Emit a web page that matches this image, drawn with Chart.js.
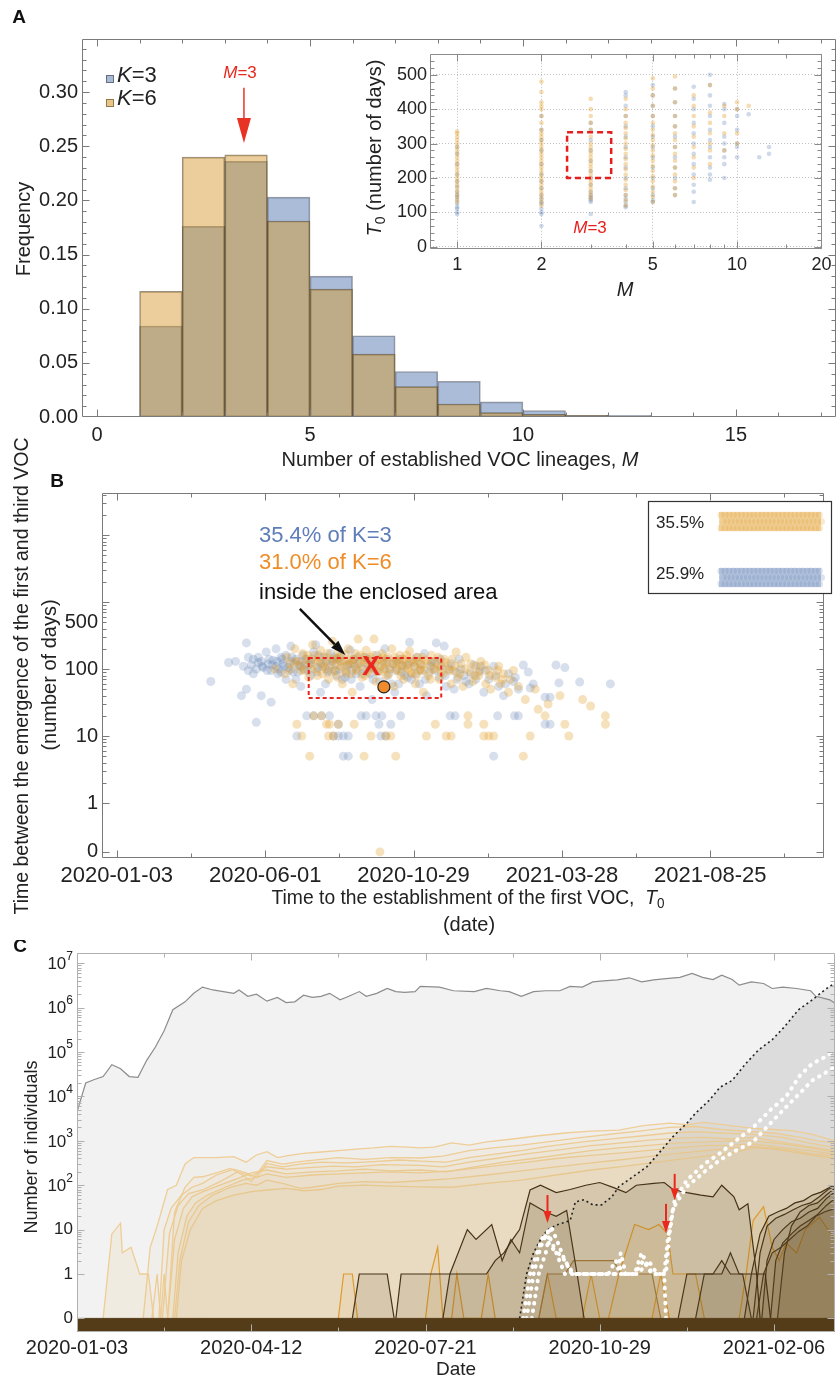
<!DOCTYPE html>
<html>
<head>
<meta charset="utf-8">
<script src="https://cdn.jsdelivr.net/npm/chart.js@4.4.0/dist/chart.umd.min.js"></script>
<style>
  body { margin: 0; background: #fff; }
  #wrap { position: relative; width: 837px; height: 1381px; overflow: hidden; }
  canvas { position: absolute; }
</style>
</head>
<body>
<div id="wrap">
  <canvas id="histA" width="837" height="480" style="left:0;top:0"></canvas>
  <canvas id="insetA" width="497" height="270" style="left:340px;top:40px"></canvas>
  <canvas id="scatterB" width="837" height="560" style="left:0;top:380px"></canvas>
  <canvas id="linesC" width="837" height="441" style="left:0;top:940px"></canvas>
</div>
<script>
const FONT = "'Liberation Sans', Arial, Helvetica, sans-serif";
Chart.defaults.font.family = FONT;
Chart.defaults.color = '#222';

const BLUE = '94,129,181';
const ORANGE = '225,156,36';

// ---------- panel A : histogram of M ----------
const binStarts = [1, 2, 3, 4, 5, 6, 7, 8, 9, 10, 11, 12];
const freqK3 = [0.084, 0.176, 0.236, 0.203, 0.130, 0.075, 0.042, 0.033, 0.014, 0.006, 0.0015, 0.0015];
const freqK6 = [0.116, 0.240, 0.242, 0.181, 0.118, 0.058, 0.028, 0.012, 0.004, 0.0025, 0.0015, 0];
const histXTicks = [0, 5, 10, 15];
const histYTicks = [0, 0.05, 0.10, 0.15, 0.20, 0.25, 0.30];
const arrowA = [3.45, 0.304, 0.253];

// inset: T0 against M
const insetK6 = [
  [1,130],[1,140],[1,150],[1,160],[1,170],[1,180],[1,190],[1,200],[1,210],[1,220],[1,230],[1,240],[1,250],[1,260],[1,270],[1,280],[1,290],[1,300],[1,310],[1,320],[1,330],[1,335],
  [2,120],[2,130],[2,140],[2,150],[2,160],[2,170],[2,180],[2,190],[2,200],[2,210],[2,220],[2,230],[2,240],[2,250],[2,260],[2,270],[2,280],[2,290],[2,300],[2,310],[2,320],[2,330],[2,340],[2,360],[2,380],[2,400],[2,410],[2,420],[2,450],[2,480],
  [3,140],[3,150],[3,160],[3,170],[3,180],[3,190],[3,200],[3,210],[3,220],[3,230],[3,240],[3,250],[3,260],[3,270],[3,280],[3,290],[3,300],[3,320],[3,340],[3,360],[3,380],[3,400],[3,430],
  [4,120],[4,135],[4,150],[4,165],[4,180],[4,195],[4,210],[4,225],[4,240],[4,255],[4,270],[4,285],[4,300],[4,315],[4,330],[4,345],[4,360],[4,380],[4,400],[4,430],
  [5,130],[5,145],[5,160],[5,175],[5,190],[5,205],[5,220],[5,235],[5,250],[5,265],[5,280],[5,295],[5,310],[5,325],[5,340],[5,360],[5,380],[5,410],[5,440],[5,460],[5,490],
  [6,150],[6,170],[6,190],[6,210],[6,230],[6,250],[6,270],[6,290],[6,310],[6,330],[6,350],[6,380],[6,420],[6,460],[6,495],
  [7,200],[7,230],[7,260],[7,290],[7,320],[7,350],[7,380],[7,410],[7,440],
  [8,240],[8,280],[8,300],[8,330],[8,360],[8,390],[8,470],
  [9,280],[9,330],[9,380],[9,410],
  [10,300],[10,330],[10,400],[10,420],
  [11,410]
];
const insetK3 = [
  [1,95],[1,100],[1,110],[1,115],[1,125],[1,135],[1,145],[1,150],[1,160],[1,175],[1,190],[1,210],[1,240],[1,270],[1,290],
  [2,60],[2,95],[2,100],[2,110],[2,125],[2,130],[2,140],[2,150],[2,170],[2,190],[2,210],[2,240],[2,280],[2,310],[2,340],[2,380],
  [3,95],[3,130],[3,135],[3,140],[3,145],[3,150],[3,160],[3,180],[3,200],[3,220],[3,250],[3,280],[3,310],[3,340],[3,360],
  [4,115],[4,120],[4,130],[4,140],[4,150],[4,170],[4,200],[4,230],[4,260],[4,290],[4,320],[4,350],[4,380],[4,410],[4,440],[4,450],
  [5,130],[5,135],[5,150],[5,170],[5,200],[5,230],[5,260],[5,290],[5,320],[5,350],[5,380],[5,410],[5,440],[5,470],
  [6,150],[6,170],[6,200],[6,230],[6,260],[6,290],[6,320],[6,350],[6,380],[6,420],[6,460],
  [7,130],[7,160],[7,180],[7,210],[7,240],[7,270],[7,300],[7,330],[7,360],[7,400],[7,430],[7,465],
  [8,195],[8,210],[8,230],[8,260],[8,290],[8,310],[8,340],[8,380],[8,410],[8,440],[8,470],[8,500],
  [9,200],[9,240],[9,260],[9,280],[9,300],[9,320],[9,360],[9,400],[9,415],
  [10,260],[10,290],[10,300],[10,340],[10,380],[10,400],
  [11,385],[12,260],[13,270],[13,290]
];
const insetXTicks = [1, 2, 5, 10, 20];
const insetYTicks = [0, 100, 200, 300, 400, 500];
const insetBox = [2.47, 3.55, 200, 333];

// ---------- panel B : days between 1st and 3rd VOC ----------
const scatterK3 = [
  [95,65],[113,125],[120,130],[126,40],[131,245],[131,50],[133,150],[136,115],[138,140],[141,100],[141,16],[143,125],[146,40],[146,130],[148,105],
  [151,180],[153,120],[156,32],[156,95],[158,135],[161,200],[161,110],[163,85],[166,90],[166,150],[168,120],[171,160],[171,70],[173,105],[176,220],
  [176,130],[178,90],[181,70],[181,140],[182,10],[184,115],[186,110],[186,55],[188,160],[191,140],[192,20],[193,95],[196,80],[196,125],[199,20],
  [199,180],[201,230],[203,105],[206,120],[206,45],[207,20],[209,150],[211,60],[213,90],[215,20],[216,170],[218,130],[219,10],[221,95],[223,140],
  [224,10],[224,15],[226,130],[228,70],[229,10],[229,5],[231,75],[233,115],[234,5],[234,10],[236,190],[238,95],[241,110],[243,150],[246,55],
  [247,20],[248,85],[251,150],[252,20],[253,120],[256,85],[258,35],[261,120],[262,20],[263,160],[265,15],[266,65],[267,10],[268,20],[270,105],
  [271,200],[272,10],[273,140],[276,100],[277,15],[278,60],[281,45],[283,130],[286,140],[287,20],[288,90],[291,80],[293,115],[296,250],[298,70],
  [301,110],[303,150],[306,60],[308,95],[311,170],[313,40],[316,90],[318,125],[321,130],[323,245],[326,75],[328,110],[331,220],[333,55],[336,100],
  [337,20],[341,50],[342,20],[343,90],[346,140],[351,80],[353,65],[356,60],[361,115],[366,90],[371,45],[376,70],[381,110],[381,5],[385,20],
  [386,55],[391,40],[396,85],[401,65],[402,20],[406,50],[406,20],[411,115],[416,90],[418,52],[421,60],[433,38],[433,15],[438,15],[438,38],
  [444,115],[447,62],[453,105],[468,64],[499,60],
  [128,110],[133,95],[138,85],[143,150],[147,110],[152,95],[154,140],[157,115],[162,130],[164,100],[167,140],[169,110],[174,95],[177,150],[179,120],
  [183,90],[187,130],[189,100],[194,115],[197,140],[202,90],[204,160],[208,110],[212,130],[214,95],[217,115],[220,150],[222,80],[225,100],[227,160],
  [232,90],[235,120],[237,70],[239,140],[242,85],[244,120],[249,100],[254,140],[257,105],[259,70],[264,90],[269,130],[274,80],[279,120],[282,95],
  [285,60],[289,110],[294,75],[297,130],[302,85],[307,120],[312,70],[317,110],[322,95],[327,140],[332,80],[338,120],[344,70],[348,100],[358,85],
  [363,70],[368,110],[373,95],[383,80],[393,60],[403,75]
];
const scatterK6 = [
  [160,100],[170,85],[172,150],[175,120],[178,60],[180,200],[182,15],[183,130],[185,110],[187,10],[188,170],[190,95],[192,140],[194,75],[195,5],
  [196,120],[198,230],[199,20],[200,160],[202,100],[204,130],[206,190],[207,20],[208,85],[210,110],[212,15],[212,150],[214,10],[214,70],[215,15],
  [216,125],[218,260],[219,10],[220,95],[222,145],[224,15],[224,180],[226,110],[228,60],[230,130],[232,85],[234,200],[236,120],[238,45],[240,15],
  [240,140],[242,100],[244,280],[246,160],[248,75],[250,5],[250,125],[252,190],[254,90],[256,150],[257,10],[258,110],[260,280],[262,65],[264,135],
  [266,95],[266,0],[268,170],[270,120],[272,10],[272,80],[274,150],[276,105],[277,10],[278,200],[280,55],[282,5],[282,130],[284,95],[286,160],
  [288,115],[290,70],[292,140],[294,100],[296,185],[298,85],[300,125],[302,60],[304,150],[306,95],[308,115],[310,45],[312,135],[313,10],[315,80],
  [318,160],[320,100],[322,15],[324,120],[326,70],[328,90],[331,140],[333,10],[335,110],[338,10],[338,60],[340,95],[343,180],[345,75],[348,120],
  [350,55],[353,150],[355,15],[355,20],[357,90],[360,65],[363,110],[366,80],[368,130],[371,10],[371,15],[373,60],[376,10],[376,95],[378,50],
  [381,10],[383,75],[386,110],[388,60],[391,85],[396,45],[398,70],[401,95],[406,55],[411,5],[413,35],[418,10],[423,50],[426,25],[433,20],
  [436,30],[448,40],[453,15],[457,10],[471,35],[479,28],[494,15],[494,20],
  [176,100],[181,130],[186,95],[191,120],[193,160],[197,100],[201,135],[203,80],[205,150],[209,120],[211,100],[213,170],[217,90],[219,140],[221,115],
  [223,75],[225,150],[227,130],[229,95],[231,165],[233,110],[235,140],[237,85],[239,125],[241,170],[243,95],[245,130],[247,110],[249,150],[251,80],
  [253,135],[255,100],[259,160],[261,120],[263,90],[265,140],[267,110],[269,150],[271,100],[273,130],[275,85],[279,120],[281,150],[283,100],[285,125],
  [287,80],[289,140],[291,105],[293,160],[295,120],[297,90],[299,140],[301,110],[303,80],[305,130],[307,100],[309,150],[311,95],[314,120],[317,70],
  [319,130],[321,100],[325,150],[327,110],[330,85],[332,125],[336,95],[339,140],[342,110],[347,85],[352,100],[358,120],[362,80],[367,95],[372,115],
  [377,80],[385,95],[390,70]
];
const medianPoint = [[270, 54]];
const crossPoint = [[257, 107]];
const enclosedBox = [194, 328, 37, 146];
const bArrow = [185, 790, 231, 162];
const bDateTicks = [0, 150, 300, 450, 600];
const bDateLabels = ['2020-01-03', '2020-06-01', '2020-10-29', '2021-03-28', '2021-08-25'];
const bYTicks = [0.186, 1, 10, 100, 500];
const bYLabels = ['0', '1', '10', '100', '500'];
const ZERO_B = 0.186;

// ---------- panel C : number of individuals over time ----------
const totalC = [[0,4500],[5,20000],[10,24000],[15,28000],[20,52000],[25,42000],[30,28000],[35,27000],[40,65000],[45,130000],[50,300000],[55,900000],
  [62,1350000],[67,2100000],[72,2900000],[78,2500000],[84,2300000],[90,2100000],[93,2500000],[98,1800000],[103,2000000],[109,1400000],[115,1700000],
  [120,1300000],[125,1350000],[130,1900000],[135,1700000],[140,1800000],[145,2100000],[151,1500000],[156,1800000],[162,2300000],[166,1800000],
  [172,2100000],[178,2700000],[183,2300000],[188,2200000],[194,2300000],[197,3000000],[208,2900000],[216,2400000],[228,2300000],[235,2700000],
  [243,2400000],[248,2300000],[255,1800000],[262,2300000],[269,2400000],[277,2400000],[283,3000000],[290,2900000],[296,3800000],[302,4000000],
  [310,4200000],[317,4700000],[324,3800000],[331,4200000],[338,4500000],[346,4800000],[353,5900000],[359,4800000],[365,4300000],[370,5400000],
  [376,4300000],[380,3200000],[387,3800000],[394,3500000],[399,2700000],[405,2900000],[413,2700000],[421,2400000],[424,1800000],[432,1500000],[435,1260000]];
const vocTotalC = [[254,0],[258,1],[262,3],[266,6],[270,10],[276,13],[283,16],[286,42],[291,47],[296,36],[301,36],[307,55],[311,93],[319,155],[327,260],
  [334,530],[342,1240],[350,2500],[355,4200],[363,8300],[369,16000],[376,23000],[384,56000],[391,110000],[399,190000],[406,370000],[414,890000],
  [422,1500000],[429,2500000],[435,3600000]];
const tanEarly = [[15,0],[20,8],[25,14],[26,3],[31,4],[36,1],[41,1],[44,0]];
const tan1 = [[38,0],[42,4],[46,12],[52,80],[57,100],[62,300],[67,420],[72,420],[80,420],[90,440],[97,330],[103,480],[109,570],[115,420],[122,470],[130,520],
  [140,560],[150,600],[160,650],[170,690],[180,750],[190,720],[197,690],[205,720],[215,900],[225,800],[235,950],[250,1100],[265,1300],[280,1500],[295,1650],
  [311,1740],[325,2200],[340,2500],[350,2300],[360,2600],[375,2200],[388,1900],[400,1800],[410,1700],[422,1400],[435,1000]];
const tan2 = [[43,0],[46,1],[48,0],[50,1],[52,0],[56,25],[62,90],[67,150],[72,155],[80,190],[88,240],[95,170],[100,120],[109,360],[118,300],[128,340],[140,380],
  [150,420],[165,380],[180,420],[197,410],[210,450],[225,600],[240,700],[255,800],[270,950],[290,1200],[311,1480],[325,1700],[340,2000],[355,2100],[370,1800],
  [388,1600],[400,1500],[415,1200],[425,1000],[435,900]];
const tan3 = [[47,0],[50,10],[54,30],[60,60],[66,90],[72,110],[80,170],[90,230],[97,190],[103,150],[109,310],[118,260],[128,300],[140,330],[155,320],[170,340],
  [185,370],[197,350],[212,330],[225,420],[240,500],[255,600],[270,750],[290,950],[311,1150],[325,1300],[340,1500],[355,1600],[370,1500],[388,1400],[405,1200],
  [420,900],[435,700]];
const tan4 = [[49,0],[53,8],[58,35],[64,65],[72,78],[82,120],[92,200],[100,160],[109,260],[120,230],[133,250],[147,270],[160,260],[175,290],[197,280],[210,260],
  [225,330],[240,400],[260,520],[280,650],[295,780],[311,890],[330,1050],[345,1150],[360,1200],[375,1100],[388,1200],[400,1000],[415,800],[435,600]];
const tan5 = [[52,0],[56,6],[61,30],[66,55],[72,71],[82,100],[92,140],[100,190],[109,220],[120,180],[135,200],[150,210],[165,230],[180,210],[197,220],[212,200],
  [228,260],[245,330],[262,400],[280,500],[295,600],[311,690],[330,800],[345,900],[360,950],[375,1000],[388,1000],[405,850],[420,700],[435,550]];
const tan6 = [[55,0],[58,3],[63,20],[68,40],[75,60],[85,90],[95,130],[103,150],[109,180],[120,150],[135,170],[150,180],[165,190],[180,200],[197,190],[215,210],
  [235,260],[255,320],[275,400],[295,470],[311,530],[330,620],[345,700],[360,780],[375,800],[388,850],[405,700],[420,600],[435,500]];
const tan7 = [[56,0],[59,2],[64,15],[70,35],[78,60],[88,90],[97,110],[103,100],[109,130],[118,110],[128,85],[135,90],[150,110],[165,120],[180,115],[197,126],
  [215,140],[235,170],[255,210],[275,260],[295,320],[311,370],[330,450],[345,520],[360,600],[375,680],[388,750],[405,650],[420,520],[435,450]];
const tan8 = [[57,0],[60,2],[65,10],[72,30],[80,45],[90,60],[100,72],[109,78],[120,85],[130,75],[140,80],[150,95],[165,100],[180,95],[197,92],[215,90],
  [235,110],[255,130],[275,170],[295,220],[311,260],[330,320],[345,380],[360,450],[375,520],[388,700],[400,650],[415,520],[435,400]];
const voc1 = [[158,0],[162,1],[178,1],[182,0]];
const voc2 = [[183,0],[186,1],[230,1],[235,1],[240,2],[245,3],[250,6],[254,10],[260,78],[266,100],[275,68],[283,80],[292,100],[300,115],[308,88],[315,68],
  [321,100],[331,110],[337,115],[342,80],[350,68],[358,60],[365,55],[370,100],[377,55],[380,28],[385,38],[390,1],[392,0]];
const voc3 = [[210,0],[214,1],[224,10],[229,6],[238,13],[244,2],[249,6],[254,3],[260,40],[269,25],[275,20],[281,27],[287,1],[291,0]];
const voc4 = [[345,0],[350,1],[370,1],[375,3],[380,1],[395,1],[398,0]];
const voc5 = [[383,0],[387,1],[392,8],[397,20],[402,25],[407,30],[412,40],[417,45],[422,60],[427,70],[432,90],[435,100]];
const voc6 = [[388,0],[392,3],[396,12],[401,18],[406,22],[411,28],[416,35],[421,40],[426,55],[431,80],[435,95]];
const voc7 = [[393,0],[396,2],[400,6],[405,10],[410,15],[415,18],[420,25],[425,30],[430,50],[435,70]];
const voc8 = [[398,0],[401,2],[405,5],[410,8],[415,12],[420,16],[425,22],[430,35],[435,50]];
const voc9 = [[390,0],[394,1],[399,3],[404,4],[409,6],[414,9],[419,12],[424,20],[429,25],[435,30]];
const voc10 = [[402,0],[406,3],[410,12],[415,25],[420,35],[425,40],[430,60],[435,85]];
const voc11 = [[355,0],[360,1],[365,1],[370,2],[375,1],[382,1],[387,0]];
const mid1 = [[265,0],[270,1],[280,1],[285,2],[308,2],[312,1],[330,1],[335,0]];
const orange1 = [[150,0],[153,1],[158,1],[161,0]];
const orange2 = [[200,0],[203,1],[207,4],[210,0],[215,0],[218,1],[222,0],[232,0],[236,1],[240,0]];
const orange3 = [[305,0],[311,1],[320,13],[328,10],[334,13],[339,8],[342,1],[355,1],[360,0]];
const orange4 = [[380,0],[384,1],[388,16],[394,33],[399,4],[403,2],[407,5],[413,3],[418,10],[426,19],[435,6]];
const orange5 = [[265,0],[270,1],[275,0],[290,0],[295,1],[300,0],[330,0],[335,1],[340,0]];
const whiteA = [[256,0],[260,1],[264,3],[268,8],[272,4],[276,3],[280,2],[284,1],[290,1],[300,1],[310,1],[312,3],[315,1],[320,1],[325,2],[330,1],[335,1],
  [338,1],[340,8],[343,47],[350,130],[360,300],[369,525],[378,1000],[388,2000],[398,5000],[407,10000],[415,30000],[422,55000],[430,80000],[435,110000]];
const whiteB = [[261,0],[265,1],[269,3],[272,12],[276,5],[280,2],[285,1],[295,1],[305,1],[315,1],[322,1],[328,2],[333,1],[337,1],[339,6],[342,30],[350,93],
  [360,200],[369,370],[378,600],[388,950],[398,2500],[407,5800],[415,12000],[422,23000],[430,35000],[435,47000]];
const whiteC = [[258,0],[262,1],[266,4],[270,9],[275,3],[280,1],[290,1],[300,1],[305,1],[309,2],[314,1],[320,1],[324,3],[330,1],[337,1],[338,0]];
const cArrows = [[270, 60, 14], [343, 180, 46], [338, 38, 8.4]];
const cDateTicks = [0, 100, 200, 300, 400];
const cDateLabels = ['2020-01-03', '2020-04-12', '2020-07-21', '2020-10-29', '2021-02-06'];
const cYTicks = [0.1, 1, 10, 100, 1e3, 1e4, 1e5, 1e6, 1e7];
const cYLabels = ['0', '1', '10', '10', '10', '10', '10', '10', '10'];
const cYExp = [null, null, null, 2, 3, 4, 5, 6, 7];
const ZERO_C = 0.1;

// ---------- helpers ----------
function richText(ctx, segs, x, y, o) {
  o = o || {};
  const size = o.size || 20;
  const fontOf = s => (s.i ? 'italic ' : '') + (o.bold ? 'bold ' : '') + ((s.sub || s.sup) ? Math.round(size * 0.7) : size) + 'px ' + FONT;
  ctx.save();
  ctx.translate(x, y);
  if (o.rot) ctx.rotate(o.rot);
  let total = 0;
  const widths = segs.map(s => { ctx.font = fontOf(s); const w = ctx.measureText(s.t).width; total += w; return w; });
  if (o.maxWidth && total > o.maxWidth) ctx.scale(o.maxWidth / total, 1);
  let cx = o.align === 'left' ? 0 : o.align === 'right' ? -total : -total / 2;
  ctx.textBaseline = 'middle';
  ctx.textAlign = 'left';
  segs.forEach((s, k) => {
    ctx.font = fontOf(s);
    ctx.fillStyle = s.c || o.color || '#222';
    const dy = s.sub ? size * 0.3 : s.sup ? -size * 0.4 : 0;
    ctx.fillText(s.t, cx, dy);
    cx += widths[k];
  });
  ctx.restore();
}

function arrow(ctx, x1, y1, x2, y2, color, w, headLen, headW) {
  const ang = Math.atan2(y2 - y1, x2 - x1);
  const bx = x2 - headLen * Math.cos(ang), by = y2 - headLen * Math.sin(ang);
  ctx.save();
  ctx.strokeStyle = color; ctx.fillStyle = color; ctx.lineWidth = w;
  ctx.beginPath(); ctx.moveTo(x1, y1); ctx.lineTo(bx, by); ctx.stroke();
  ctx.beginPath();
  ctx.moveTo(x2, y2);
  ctx.lineTo(bx + headW / 2 * Math.sin(ang), by - headW / 2 * Math.cos(ang));
  ctx.lineTo(bx - headW / 2 * Math.sin(ang), by + headW / 2 * Math.cos(ang));
  ctx.closePath(); ctx.fill();
  ctx.restore();
}

function dataRect(chart, box, color, width, dash) {
  const { ctx, scales } = chart;
  const x0 = scales.x.getPixelForValue(box[0]), x1 = scales.x.getPixelForValue(box[1]);
  const y0 = scales.y.getPixelForValue(box[2]), y1 = scales.y.getPixelForValue(box[3]);
  ctx.save();
  ctx.strokeStyle = color; ctx.lineWidth = width; ctx.setLineDash(dash);
  ctx.strokeRect(x0, y1, x1 - x0, y0 - y1);
  ctx.restore();
}

// frame with inward ticks on all four sides
function frame(o) {
  return {
    id: 'frame',
    afterDatasetsDraw(chart) {
      const { ctx, chartArea: a } = chart;
      const xs = chart.scales.x, ys = chart.scales.y;
      const L = Math.round(a.left) + 0.5, R = Math.round(a.right) - 0.5;
      const T = Math.round(a.top) + 0.5, B = Math.round(a.bottom) - 0.5;
      ctx.save();
      ctx.strokeStyle = o.color || '#808080';
      ctx.lineWidth = 1;
      ctx.beginPath();
      ctx.rect(L, T, R - L, B - T);
      const tx = (v, len) => {
        const p = Math.round(xs.getPixelForValue(v)) + 0.5;
        if (p < L || p > R) return;
        ctx.moveTo(p, B); ctx.lineTo(p, B - len);
        ctx.moveTo(p, T); ctx.lineTo(p, T + len);
      };
      const ty = (v, len) => {
        const p = Math.round(ys.getPixelForValue(v)) + 0.5;
        if (p < T || p > B) return;
        ctx.moveTo(L, p); ctx.lineTo(L + len, p);
        ctx.moveTo(R, p); ctx.lineTo(R - len, p);
      };
      (o.xMajor || []).forEach(v => tx(v, 7));
      (o.xMinor || []).forEach(v => tx(v, 4));
      (o.yMajor || []).forEach(v => ty(v, 7));
      (o.yMinor || []).forEach(v => ty(v, 4));
      ctx.stroke();
      ctx.restore();
    }
  };
}

function logMinors(fromExp, toExp) {
  const out = [];
  for (let e = fromExp; e <= toExp; e++) for (let m = 2; m <= 9; m++) out.push(m * Math.pow(10, e));
  return out;
}

const toXY = (pairs, zero) => pairs.map(p => ({ x: p[0], y: p[1] === 0 ? zero : p[1] }));

// red letter X used as the point style of the "X" marker in B
const xGlyph = document.createElement('canvas');
xGlyph.width = 24; xGlyph.height = 26;
(function () {
  const g = xGlyph.getContext('2d');
  g.fillStyle = 'rgb(235,40,30)';
  g.font = 'bold 27px ' + FONT;
  g.textAlign = 'center'; g.textBaseline = 'middle';
  g.fillText('X', 12, 14);
})();

// ---------- chart A ----------
const barCommon = { borderWidth: 1, borderSkipped: false, grouped: false, barPercentage: 1, categoryPercentage: 1 };
new Chart(document.getElementById('histA'), {
  type: 'bar',
  data: {
    datasets: [
      Object.assign({ label: 'K=6', data: binStarts.map((b, i) => ({ x: b + 0.5, y: freqK6[i] })),
        backgroundColor: 'rgba(213,151,42,0.47)', borderColor: 'rgba(70,55,30,0.55)', order: 1 }, barCommon),
      Object.assign({ label: 'K=3', data: binStarts.map((b, i) => ({ x: b + 0.5, y: freqK3[i] })),
        backgroundColor: 'rgba(94,129,181,0.53)', borderColor: 'rgba(60,60,70,0.5)', order: 2 }, barCommon)
    ]
  },
  options: {
    responsive: false, animation: false, devicePixelRatio: 1,
    layout: { padding: { left: 0, top: 39, right: 1, bottom: 0 } },
    plugins: { legend: { display: false }, tooltip: { enabled: false } },
    scales: {
      x: {
        type: 'linear', min: -0.352, max: 17.35, offset: false,
        grid: { display: false, drawTicks: false }, border: { display: false },
        ticks: { font: { size: 20 }, padding: 6, maxRotation: 0, autoSkip: false, callback: v => String(v) },
        afterBuildTicks: s => { s.ticks = histXTicks.map(v => ({ value: v })); },
        afterFit: s => { s.height = 63; }
      },
      y: {
        min: 0, max: 0.349,
        grid: { display: false, drawTicks: false }, border: { display: false },
        ticks: { font: { size: 20 }, padding: 4, autoSkip: false, callback: v => v.toFixed(2) },
        afterBuildTicks: s => { s.ticks = histYTicks.map(v => ({ value: v })); },
        afterFit: s => { s.width = 82; }
      }
    }
  },
  plugins: [
    frame({ color: '#7a7a7a', xMajor: histXTicks, xMinor: [1,2,3,4,6,7,8,9,11,12,13,14,16,17],
      yMajor: histYTicks, yMinor: [0.01,0.02,0.03,0.04,0.06,0.07,0.08,0.09,0.11,0.12,0.13,0.14,0.16,0.17,0.18,0.19,0.21,0.22,0.23,0.24,0.26,0.27,0.28,0.29,0.31,0.32,0.33,0.34] }),
    {
      id: 'decoA',
      afterDraw(chart) {
        const ctx = chart.ctx;
        richText(ctx, [{ t: 'A' }], 19, 18, { size: 19, bold: true, color: '#111' });
        richText(ctx, [{ t: 'Frequency' }], 24, 229, { size: 20, rot: -Math.PI / 2 });
        richText(ctx, [{ t: 'Number of established VOC lineages, ' }, { t: 'M', i: true }], 460, 460, { size: 20 });
        // legend
        ctx.save();
        ctx.fillStyle = 'rgba(94,129,181,0.55)'; ctx.strokeStyle = 'rgba(60,60,70,0.6)';
        ctx.fillRect(106, 75, 8, 8); ctx.strokeRect(106.5, 75.5, 7, 7);
        ctx.fillStyle = 'rgba(213,151,42,0.55)'; ctx.strokeStyle = 'rgba(90,70,30,0.6)';
        ctx.fillRect(106, 99, 8, 8); ctx.strokeRect(106.5, 99.5, 7, 7);
        ctx.restore();
        richText(ctx, [{ t: 'K', i: true }, { t: '=3' }], 117, 76, { size: 22, align: 'left' });
        richText(ctx, [{ t: 'K', i: true }, { t: '=6' }], 117, 99, { size: 22, align: 'left' });
        // M=3 marker
        richText(ctx, [{ t: 'M', i: true }, { t: '=3' }], 240, 73, { size: 17, color: 'rgb(232,40,30)' });
        const xs = chart.scales.x, ys = chart.scales.y;
        arrow(ctx, xs.getPixelForValue(arrowA[0]), ys.getPixelForValue(arrowA[1]),
          xs.getPixelForValue(arrowA[0]), ys.getPixelForValue(arrowA[2]), 'rgb(232,50,35)', 1.5, 25, 14);
      }
    }
  ]
});

// ---------- inset A ----------
new Chart(document.getElementById('insetA'), {
  type: 'scatter',
  data: {
    datasets: [
      { data: toXY(insetK6, 0), pointRadius: 2.3, pointBorderWidth: 0, backgroundColor: 'rgba(' + ORANGE + ',0.35)', order: 1 },
      { data: toXY(insetK3, 0), pointRadius: 2.3, pointBorderWidth: 0, backgroundColor: 'rgba(' + BLUE + ',0.3)', order: 2 }
    ]
  },
  options: {
    responsive: false, animation: false, devicePixelRatio: 1,
    layout: { padding: { left: 0, top: 13, right: 15, bottom: 0 } },
    plugins: { legend: { display: false }, tooltip: { enabled: false } },
    scales: {
      x: {
        type: 'logarithmic', min: 0.8, max: 20.1,
        grid: { display: true, color: 'rgba(0,0,0,0.25)', drawTicks: false }, border: { display: false, dash: [1, 2] },
        ticks: { font: { size: 18 }, padding: 5, autoSkip: false, maxRotation: 0, callback: v => String(v) },
        afterBuildTicks: s => { s.ticks = insetXTicks.map(v => ({ value: v })); },
        afterFit: s => { s.height = 61; }
      },
      y: {
        min: -6.7, max: 561,
        grid: { display: true, color: 'rgba(0,0,0,0.25)', drawTicks: false }, border: { display: false, dash: [1, 2] },
        ticks: { font: { size: 18 }, padding: 3, autoSkip: false, callback: v => String(v) },
        afterBuildTicks: s => { s.ticks = insetYTicks.map(v => ({ value: v })); },
        afterFit: s => { s.width = 90; }
      }
    }
  },
  plugins: [
    frame({ color: '#8a8a8a', xMajor: insetXTicks, xMinor: [3, 4, 6, 7, 8, 9, 15],
      yMajor: insetYTicks, yMinor: [20,40,60,80,120,140,160,180,220,240,260,280,320,340,360,380,420,440,460,480,520,540] }),
    {
      id: 'decoInset',
      afterDraw(chart) {
        const ctx = chart.ctx;
        dataRect(chart, insetBox, 'rgb(232,30,30)', 2.5, [6, 4]);
        richText(ctx, [{ t: 'M', i: true }, { t: '=3' }], 250, 188, { size: 17, color: 'rgb(232,30,30)' });
        richText(ctx, [{ t: 'T', i: true }, { t: '0', sub: true }, { t: ' (number of days)' }], 35, 108, { size: 20, rot: -Math.PI / 2 });
        richText(ctx, [{ t: 'M', i: true }], 285, 250, { size: 20 });
      }
    }
  ]
});

// ---------- chart B ----------
new Chart(document.getElementById('scatterB'), {
  type: 'scatter',
  data: {
    datasets: [
      { data: toXY(crossPoint, ZERO_B), pointStyle: xGlyph, pointRadius: 12, order: 0 },
      { data: toXY(medianPoint, ZERO_B), pointRadius: 6, backgroundColor: 'rgb(240,140,45)', borderColor: '#222', pointBorderWidth: 1.2, order: 0 },
      { data: toXY(scatterK6, ZERO_B), pointRadius: 4.5, pointBorderWidth: 0, backgroundColor: 'rgba(' + ORANGE + ',0.3)', order: 1 },
      { data: toXY(scatterK3, ZERO_B), pointRadius: 4.5, pointBorderWidth: 0, backgroundColor: 'rgba(' + BLUE + ',0.25)', order: 2 }
    ]
  },
  options: {
    responsive: false, animation: false, devicePixelRatio: 1,
    layout: { padding: { left: 0, top: 113, right: 2, bottom: 0 } },
    plugins: { legend: { display: false }, tooltip: { enabled: false } },
    scales: {
      x: {
        type: 'linear', min: -15, max: 715,
        grid: { display: false, drawTicks: false }, border: { display: false },
        ticks: { font: { size: 22 }, padding: 5, autoSkip: false, maxRotation: 0, callback: (v, i) => bDateLabels[i] },
        afterBuildTicks: s => { s.ticks = bDateTicks.map(v => ({ value: v })); },
        afterFit: s => { s.height = 82; }
      },
      y: {
        type: 'logarithmic', min: 0.151, max: 42400,
        grid: { display: false, drawTicks: false }, border: { display: false },
        ticks: { font: { size: 20 }, padding: 4, autoSkip: false, callback: (v, i) => bYLabels[i] },
        afterBuildTicks: s => { s.ticks = bYTicks.map(v => ({ value: v })); },
        afterFit: s => { s.width = 102; }
      }
    }
  },
  plugins: [
    frame({ color: '#7a7a7a', xMajor: bDateTicks, xMinor: [75, 225, 375, 525, 675],
      yMajor: [0.186, 1, 10, 100, 1000, 10000], yMinor: logMinors(0, 4) }),
    {
      id: 'decoB',
      afterDraw(chart) {
        const ctx = chart.ctx;
        const xs = chart.scales.x, ys = chart.scales.y;
        richText(ctx, [{ t: 'B' }], 57, 102, { size: 19, bold: true, color: '#111' });
        dataRect(chart, enclosedBox, 'rgb(235,35,30)', 2, [4, 3]);
        arrow(ctx, xs.getPixelForValue(bArrow[0]), ys.getPixelForValue(bArrow[1]),
          xs.getPixelForValue(bArrow[2]), ys.getPixelForValue(bArrow[3]), '#111', 2.5, 15, 10);
        richText(ctx, [{ t: '35.4% of K=3' }], 259, 156, { size: 22, align: 'left', color: 'rgb(95,125,185)' });
        richText(ctx, [{ t: '31.0% of K=6' }], 259, 183, { size: 22, align: 'left', color: 'rgb(240,140,40)' });
        richText(ctx, [{ t: 'inside the enclosed area' }], 259, 213, { size: 22, align: 'left', color: '#111' });
        // legend box
        ctx.save();
        ctx.fillStyle = '#fff';
        ctx.fillRect(648, 121, 183, 92);
        ctx.strokeStyle = '#333'; ctx.lineWidth = 1.2;
        ctx.strokeRect(648.5, 121.5, 183, 92);
        const band = (x0, y0, rgb) => {
          ctx.fillStyle = 'rgba(' + rgb + ',0.35)';
          ctx.fillRect(x0 + 2, y0 + 2, 102, 19);
          ctx.fillStyle = 'rgba(' + rgb + ',0.22)';
          for (let i = 0; i < 25; i++) for (let j = 0; j < 3; j++) {
            ctx.beginPath();
            ctx.arc(x0 + 4 + i * 4.1 + (j % 2) * 2, y0 + 5 + j * 6.5, 3.6, 0, Math.PI * 2);
            ctx.fill();
          }
        };
        band(717, 130, ORANGE);
        band(717, 186, BLUE);
        ctx.restore();
        richText(ctx, [{ t: '35.5%' }], 656, 143, { size: 17, align: 'left' });
        richText(ctx, [{ t: '25.9%' }], 656, 194, { size: 17, align: 'left' });
        // axis titles
        richText(ctx, [{ t: 'Time between the emergence of the first and third VOC' }], 22, 296, { size: 20, rot: -Math.PI / 2, maxWidth: 477 });
        richText(ctx, [{ t: '(number of days)' }], 50, 295, { size: 20, rot: -Math.PI / 2 });
        richText(ctx, [{ t: 'Time to the establishment of the first VOC,  ' }, { t: 'T', i: true }, { t: '0', sub: true }], 468, 518, { size: 20, maxWidth: 393 });
        richText(ctx, [{ t: '(date)' }], 469, 545, { size: 20 });
      }
    }
  ]
});

// ---------- chart C ----------
function lineSet(pairs, color, width, fillColor, order, extra) {
  return Object.assign({
    data: toXY(pairs, ZERO_C), borderColor: color, borderWidth: width, pointRadius: 0, tension: 0,
    fill: fillColor ? 'start' : false, backgroundColor: fillColor || 'transparent', order: order
  }, extra || {});
}
const TAN_LINE = 'rgba(238,203,145,0.95)', TAN_FILL = 'rgba(230,195,130,0.065)';
const DARK_LINE = 'rgb(70,50,22)', DARK_FILL = 'rgba(100,75,35,0.13)';
const OR_LINE = 'rgb(222,155,45)', OR_FILL = 'rgba(225,156,36,0.07)';
const dotWhite = { borderDash: [0.5, 7], borderCapStyle: 'round', borderJoinStyle: 'round' };

new Chart(document.getElementById('linesC'), {
  type: 'line',
  data: {
    datasets: [
      lineSet(totalC, 'rgb(140,140,140)', 1.2, 'rgb(242,242,242)', 100),
      lineSet(vocTotalC, 'transparent', 0, 'rgba(140,140,140,0.22)', 95),
      lineSet(tanEarly, TAN_LINE, 1.3, 'rgba(230,195,130,0.15)', 80),
      lineSet(tan1, TAN_LINE, 1.3, TAN_FILL, 80),
      lineSet(tan2, TAN_LINE, 1.3, TAN_FILL, 80),
      lineSet(tan3, TAN_LINE, 1.3, TAN_FILL, 80),
      lineSet(tan4, TAN_LINE, 1.3, TAN_FILL, 80),
      lineSet(tan5, TAN_LINE, 1.3, TAN_FILL, 80),
      lineSet(tan6, TAN_LINE, 1.3, TAN_FILL, 80),
      lineSet(tan7, TAN_LINE, 1.3, TAN_FILL, 80),
      lineSet(tan8, TAN_LINE, 1.3, TAN_FILL, 80),
      lineSet(orange1, OR_LINE, 1.2, OR_FILL, 70),
      lineSet(orange2, OR_LINE, 1.2, OR_FILL, 70),
      lineSet(orange3, OR_LINE, 1.2, OR_FILL, 70),
      lineSet(orange4, OR_LINE, 1.2, OR_FILL, 70),
      lineSet(orange5, OR_LINE, 1.2, OR_FILL, 70),
      lineSet(mid1, 'rgb(165,125,65)', 1.2, 'rgba(150,110,50,0.1)', 65),
      lineSet(voc1, DARK_LINE, 1.2, DARK_FILL, 60),
      lineSet(voc2, DARK_LINE, 1.2, DARK_FILL, 60),
      lineSet(voc3, DARK_LINE, 1.2, DARK_FILL, 60),
      lineSet(voc4, DARK_LINE, 1.2, DARK_FILL, 60),
      lineSet(voc5, DARK_LINE, 1.2, DARK_FILL, 60),
      lineSet(voc6, DARK_LINE, 1.2, DARK_FILL, 60),
      lineSet(voc7, DARK_LINE, 1.2, DARK_FILL, 60),
      lineSet(voc8, DARK_LINE, 1.2, DARK_FILL, 60),
      lineSet(voc9, DARK_LINE, 1.2, DARK_FILL, 60),
      lineSet(voc10, DARK_LINE, 1.2, DARK_FILL, 60),
      lineSet(voc11, DARK_LINE, 1.2, DARK_FILL, 60),
      lineSet(vocTotalC, '#222', 1.6, null, 20, { borderDash: [2, 3] }),
      lineSet(whiteA, '#fff', 4, null, 10, dotWhite),
      lineSet(whiteB, '#fff', 4, null, 10, dotWhite),
      lineSet(whiteC, '#fff', 4, null, 10, dotWhite),
      { data: [{ x: 0, y: ZERO_C }, { x: 435, y: ZERO_C }], borderColor: 'rgb(85,60,25)', borderWidth: 1, pointRadius: 0,
        fill: 'start', backgroundColor: 'rgb(85,60,25)', order: 5 }
    ]
  },
  options: {
    responsive: false, animation: false, devicePixelRatio: 1,
    layout: { padding: { left: 0, top: 13, right: 2, bottom: 0 } },
    plugins: { legend: { display: false }, tooltip: { enabled: false } },
    scales: {
      x: {
        type: 'linear', min: 0, max: 435,
        grid: { display: false, drawTicks: false }, border: { display: false },
        ticks: { font: { size: 20 }, padding: 4, autoSkip: false, maxRotation: 0, callback: (v, i) => cDateLabels[i] },
        afterBuildTicks: s => { s.ticks = cDateTicks.map(v => ({ value: v })); },
        afterFit: s => { s.height = 49; }
      },
      y: {
        type: 'logarithmic', min: 0.0494, max: 1.7e7,
        grid: { display: false, drawTicks: false }, border: { display: false },
        ticks: { display: false },
        afterBuildTicks: s => { s.ticks = cYTicks.map(v => ({ value: v })); },
        afterFit: s => { s.width = 77; }
      }
    }
  },
  plugins: [
    frame({ color: '#b0b0b0', xMajor: cDateTicks, xMinor: [50, 150, 250, 350], yMajor: cYTicks, yMinor: logMinors(0, 6) }),
    {
      id: 'decoC',
      afterDraw(chart) {
        const ctx = chart.ctx;
        const xs = chart.scales.x, ys = chart.scales.y;
        cArrows.forEach(a => arrow(ctx, xs.getPixelForValue(a[0]), ys.getPixelForValue(a[1]),
          xs.getPixelForValue(a[0]), ys.getPixelForValue(a[2]), 'rgb(235,40,30)', 2, 12, 8));
        // y tick labels with exponents
        const right = chart.chartArea.left - 4;
        ctx.save();
        ctx.fillStyle = '#222'; ctx.textBaseline = 'middle';
        cYTicks.forEach((v, i) => {
          const p = ys.getPixelForValue(v);
          if (cYExp[i] == null) {
            ctx.font = '17px ' + FONT; ctx.textAlign = 'right';
            ctx.fillText(cYLabels[i], right, p);
          } else {
            ctx.font = '12px ' + FONT; ctx.textAlign = 'right';
            const ew = ctx.measureText(String(cYExp[i])).width;
            ctx.fillText(String(cYExp[i]), right, p - 7);
            ctx.font = '17px ' + FONT;
            ctx.fillText(cYLabels[i], right - ew, p + 1);
          }
        });
        ctx.restore();
        richText(ctx, [{ t: 'C' }], 20, 7, { size: 19, bold: true, color: '#111' });
        richText(ctx, [{ t: 'Number of individuals' }], 32, 207, { size: 18, rot: -Math.PI / 2 });
        richText(ctx, [{ t: 'Date' }], 456, 430, { size: 19 });
      }
    }
  ]
});
</script>
</body>
</html>
